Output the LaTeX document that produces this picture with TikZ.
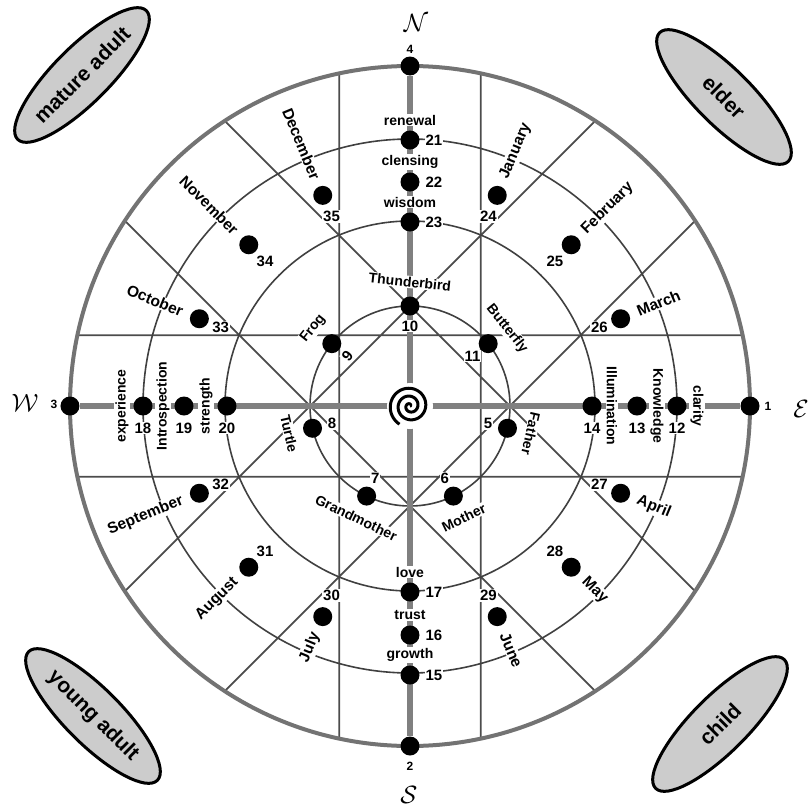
\documentclass[tikz,border=0pt]{standalone}
\usepackage{fontspec}
\setmainfont{Liberation Sans}
\usetikzlibrary{shapes.geometric}
\pgfdeclarelayer{background}
\pgfsetlayers{background,main}

\begin{document}
\begin{tikzpicture}[x=1pt,y=1pt]
                \tikzstyle{spot}=[circle,fill,inner sep=0pt,minimum size=19pt]
                \tikzstyle{lab}=[fill=white,inner sep=1pt,font=\bfseries\fontsize{14}{14}\selectfont]
                \tikzstyle{moonlab}=[lab,font=\bfseries\fontsize{15.5}{15.5}\selectfont]
                \tikzstyle{num}=[lab,font=\bfseries\fontsize{15}{15}\selectfont]
                \tikzstyle{tip}=[inner sep=1pt,font=\bfseries\fontsize{12}{12}\selectfont]
                \tikzstyle{wind}=[inner sep=0pt]
                \tikzstyle{age}=[ellipse,draw,line width=3pt,fill=black!20,minimum width=182pt,minimum height=56pt,inner sep=0pt,font=\bfseries\fontsize{21}{21}\selectfont]
                \newcommand\moonR[3]{\node[moonlab,anchor=west,rotate=#1] (t#2) at (#1:245) {#3};%
                \node[num] (n#2) at (#1:205) {#2};%
                \node[spot] (#2) at (#1:228) {};}
                \newcommand\moonL[3]{\node[moonlab,anchor=east,rotate=#1+180] (t#2) at (#1:245) {#3};%
                \node[num] (n#2) at (#1:205) {#2};%
                \node[spot] (#2) at (#1:228) {};}
                \newcommand\kin[4]{\node[lab,rotate=#4] (t#2) at (#1:124) {#3};%
                \node[num] (n#2) at (#1:80) {#2};%
                \node[spot] (#2) at (#1:100) {};}
                \newcommand\polelab[3]{\node[lab] (t#2) at (0,#1+20) {#3};%
                \node[num] (n#2) at (24,#1) {#2};%
                \node[spot] (#2) at (0,#1) {};}
                \newcommand\westlab[3]{\node[lab,rotate=90] (t#2) at (#1-21,0) {#3};%
                \node[num] (n#2) at (#1,-22) {#2};%
                \node[spot] (#2) at (#1,0) {};}
                \newcommand\eastlab[3]{\node[lab,rotate=-90] (t#2) at (#1+20,0) {#3};%
                \node[num] (n#2) at (#1,-22) {#2};%
                \node[spot] (#2) at (#1,0) {};}
                \useasboundingbox (-410,-401) rectangle (398,406);
                \node[spot] (4) at (0,340) {};
                \node[tip] (n4) at (0,357) {4};
                \node[wind] (N) at (6,383) {\scalebox{2.5}{$\mathcal{N}$}};
                \node[spot] (3) at (-340,0) {};
                \node[tip] (n3) at (-356,2) {3};
                \node[wind] (W) at (-385,3) {\scalebox{2.5}{$\mathcal{W}$}};
                \node[spot] (1) at (340,0) {};
                \node[tip] (n1) at (358,0) {1};
                \node[wind] (E) at (391,-3) {\scalebox{2.5}{$\mathcal{E}$}};
                \node[spot] (2) at (0,-340) {};
                \node[tip] (n2) at (0,-360) {2};
                \node[wind] (S) at (-1,-389) {\scalebox{2.5}{$\mathcal{S}$}};
                \polelab{266}{21}{renewal}
                \polelab{224}{22}{clensing}
                \polelab{184}{23}{wisdom}
                \polelab{-186}{17}{love}
                \polelab{-229}{16}{trust}
                \polelab{-269}{15}{growth}
                \westlab{-267}{18}{experience}
                \westlab{-226}{19}{Introspection}
                \westlab{-183}{20}{strength}
                \eastlab{182}{14}{Illumination}
                \eastlab{227}{13}{Knowledge}
                \eastlab{267}{12}{clarity}
                \kin{90}{10}{Thunderbird}{-6}
                \kin{38.57}{11}{Butterfly}{-51.43}
                \kin{-12.86}{5}{Father}{-102.86}
                \kin{-64.29}{6}{Mother}{25.71}
                \kin{-115.71}{7}{Grandmother}{-25.71}
                \kin{-167.14}{8}{Turtle}{-77.14}
                \node[lab,rotate=51.43] (t9) at (141.43:124) {Frog};
                \node[num,rotate=51.43] (n9) at (141.43:80) {9};
                \node[spot] (9) at (141.43:100) {};
                \moonR{67.5}{24}{January}
                \moonR{45}{25}{February}
                \moonR{22.5}{26}{March}
                \moonR{-22.5}{27}{April}
                \moonR{-45}{28}{May}
                \moonR{-67.5}{29}{June}
                \moonL{-112.5}{30}{July}
                \moonL{-135}{31}{August}
                \moonL{-157.5}{32}{September}
                \moonL{157.5}{33}{October}
                \moonL{135}{34}{November}
                \moonL{112.5}{35}{December}
                \begin{pgfonlayer}{background}
                \draw[line width=1.8pt,black!70] (78:340) -- (-78:340) (168:340) -- (12:340)
                    (258:340) -- (102:340) (348:340) -- (192:340)
                    (123:340) -- (-33:340) (213:340) -- (57:340)
                    (303:340) -- (147:340) (33:340) -- (237:340);
                \draw[line width=1.6pt,black!75] (0,0) circle (100) (0,0) circle (185) (0,0) circle (267);
                \draw[line width=4pt,black!55] (0,0) circle (340);
                \draw[line width=6pt,black!50] (3) -- (1) (4) -- (2);
                \end{pgfonlayer}
                \fill[white] (0,0) circle (23);
                \draw[line width=3pt] plot[domain=0:960,samples=160,variable=\t] (\t:{\t/960*21});
                \node[age,rotate=45] (mature) at (-328,331) {mature adult};
                \node[age,rotate=-45] (elder) at (314,309) {elder};
                \node[age,rotate=-45] (young) at (-317,-310) {young adult};
                \node[age,rotate=45] (child) at (310,-318) {child};
            \end{tikzpicture}
\end{document}
